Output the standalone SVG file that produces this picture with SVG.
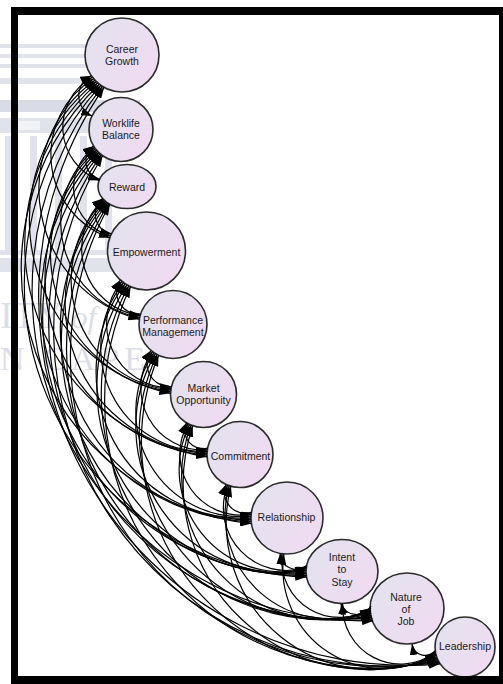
<svg xmlns="http://www.w3.org/2000/svg" width="503" height="684" viewBox="0 0 503 684">
<style>
.node{fill:url(#nf);stroke:#2b2b2b;stroke-width:1.6}
.lbl{font-family:"Liberation Sans",Arial,sans-serif;font-size:10.5px;fill:#1a1a1a;text-anchor:middle}
.arc{fill:none;stroke:#000;stroke-width:1.2;marker-start:url(#ah);marker-end:url(#ah)}
.wm{fill:#e1e3ec}
.wmt{font-family:"Liberation Serif","Times New Roman",serif;fill:#dcdee8}
</style>
<defs>
<linearGradient id="nf" x1="0" y1="0" x2="1" y2="0.6">
<stop offset="0" stop-color="#e2e3ee"/>
<stop offset="1" stop-color="#f0dbf2"/>
</linearGradient>
<marker id="ah" viewBox="0 0 11 8" refX="11" refY="4" markerWidth="11" markerHeight="8" markerUnits="userSpaceOnUse" orient="auto-start-reverse">
<path d="M0,0 L11,4 L0,8 z" fill="#000"/>
</marker>
</defs>
<rect x="0" y="0" width="503" height="684" fill="#fff"/>
<g id="watermark">
<rect class="wm" x="0" y="44" width="100" height="4"/>
<rect class="wm" x="0" y="54" width="95" height="4"/>
<rect class="wm" x="0" y="64" width="90" height="4"/>
<rect class="wm" x="0" y="78" width="85" height="6"/>
<rect x="0" y="100" width="140" height="12" fill="#d9dbe7"/>
<rect class="wm" x="0" y="118" width="125" height="15"/>
<rect x="12" y="121" width="28" height="9" fill="#f2f3f7"/>
<rect class="wm" x="5" y="136" width="7" height="118"/>
<rect class="wm" x="30" y="136" width="7" height="118"/>
<rect class="wm" x="55" y="136" width="7" height="118"/>
<rect class="wm" x="80" y="136" width="7" height="118"/>
<rect class="wm" x="105" y="136" width="7" height="118"/>
<rect class="wm" x="0" y="250" width="135" height="5"/>
<rect class="wm" x="0" y="258" width="140" height="14"/>
<text class="wmt" x="0" y="328" font-size="38">ITY <tspan font-style="italic" font-size="32">of</tspan></text>
<text class="wmt" x="0" y="370" font-size="34" letter-spacing="5">N CAPE</text>
</g>
<g id="n1"><circle class="node" cx="122" cy="55" r="37"/><text class="lbl" x="122" y="53">Career</text><text class="lbl" x="122" y="65">Growth</text></g>
<g id="n2"><circle class="node" cx="121" cy="129.5" r="32"/><text class="lbl" x="121" y="127">Worklife</text><text class="lbl" x="121" y="139">Balance</text></g>
<g id="n3"><ellipse class="node" cx="127" cy="186.5" rx="29" ry="22"/><text class="lbl" x="127" y="191">Reward</text></g>
<g id="n4"><circle class="node" cx="146.5" cy="251" r="39"/><text class="lbl" x="146.5" y="255.5">Empowerment</text></g>
<g id="n5"><circle class="node" cx="173" cy="324.5" r="34"/><text class="lbl" x="173" y="324">Performance</text><text class="lbl" x="173" y="336">Management</text></g>
<g id="n6"><circle class="node" cx="203.5" cy="394.5" r="33"/><text class="lbl" x="203.5" y="392">Market</text><text class="lbl" x="203.5" y="404">Opportunity</text></g>
<g id="n7"><circle class="node" cx="240" cy="454.5" r="33"/><text class="lbl" x="240.5" y="460">Commitment</text></g>
<g id="n8"><circle class="node" cx="287" cy="518" r="36"/><text class="lbl" x="286.5" y="521">Relationship</text></g>
<g id="n9"><ellipse class="node" cx="342" cy="571.5" rx="36" ry="32"/><text class="lbl" x="342" y="561">Intent</text><text class="lbl" x="342" y="573">to</text><text class="lbl" x="342" y="585.5">Stay</text></g>
<g id="n10"><ellipse class="node" cx="407" cy="608.5" rx="37" ry="35.5"/><text class="lbl" x="406" y="600.5">Nature</text><text class="lbl" x="406" y="612.5">of</text><text class="lbl" x="406" y="624.5">Job</text></g>
<g id="n11"><circle class="node" cx="465" cy="647" r="30"/><text class="lbl" x="465" y="650">Leadership</text></g>
<g id="connectors">
<path class="arc" d="M91.3,75.7 A22.2,22.2 0 0 0 92,116"/>
<path class="arc" d="M92.4,77.3 A57,57 0 0 0 99.1,180.4"/>
<path class="arc" d="M93.7,78.8 A88.2,88.2 0 0 0 109.8,237.7"/>
<path class="arc" d="M95,80.2 A134.2,134.2 0 0 0 139.4,319.2"/>
<path class="arc" d="M96.3,81.6 A176.9,176.9 0 0 0 170.5,393.3"/>
<path class="arc" d="M97.7,82.9 A215.1,215.1 0 0 0 207.1,456.8"/>
<path class="arc" d="M99.2,84.2 A256.7,256.7 0 0 0 251.4,523.6"/>
<path class="arc" d="M100.8,85.3 A294.3,294.3 0 0 0 306.5,577.1"/>
<path class="arc" d="M102.4,86.4 A330.7,330.7 0 0 0 373.2,620.8"/>
<path class="arc" d="M104.1,87.4 A368.3,368.3 0 0 0 440.1,663.8"/>
<path class="arc" d="M93.6,146 A18.7,18.7 0 0 0 99.6,179.3"/>
<path class="arc" d="M94.5,147.4 A49.6,49.6 0 0 0 110.6,235.8"/>
<path class="arc" d="M95.4,148.8 A96.2,96.2 0 0 0 139.7,317.4"/>
<path class="arc" d="M96.5,150.1 A139.4,139.4 0 0 0 170.6,391.6"/>
<path class="arc" d="M97.6,151.3 A178.2,178.2 0 0 0 207,455.1"/>
<path class="arc" d="M98.8,152.5 A220.5,220.5 0 0 0 251.2,521.8"/>
<path class="arc" d="M100,153.7 A259.2,259.2 0 0 0 306.3,575.4"/>
<path class="arc" d="M101.3,154.7 A296.8,296.8 0 0 0 372.6,619"/>
<path class="arc" d="M102.6,155.7 A335.9,335.9 0 0 0 439.3,662.5"/>
<path class="arc" d="M102.7,198.5 A20.1,20.1 0 0 0 111.4,233.9"/>
<path class="arc" d="M103.5,199.4 A67.3,67.3 0 0 0 140.2,315.7"/>
<path class="arc" d="M104.5,200.3 A110.9,110.9 0 0 0 170.8,389.9"/>
<path class="arc" d="M105.5,201.2 A150,150 0 0 0 207,453.3"/>
<path class="arc" d="M106.5,202.1 A192.7,192.7 0 0 0 251,519.9"/>
<path class="arc" d="M107.6,202.8 A232.2,232.2 0 0 0 306.1,573.7"/>
<path class="arc" d="M108.8,203.6 A270.6,270.6 0 0 0 372.1,617.2"/>
<path class="arc" d="M109.9,204.3 A310.6,310.6 0 0 0 438.5,661.1"/>
<path class="arc" d="M120.4,280 A21.9,21.9 0 0 0 140.7,314"/>
<path class="arc" d="M122,281.3 A64.9,64.9 0 0 0 171.1,388.2"/>
<path class="arc" d="M123.6,282.6 A104,104 0 0 0 207.1,451.6"/>
<path class="arc" d="M125.2,283.7 A146.8,146.8 0 0 0 251,518"/>
<path class="arc" d="M127,284.8 A186.8,186.8 0 0 0 306,572"/>
<path class="arc" d="M128.8,285.7 A226,226 0 0 0 371.6,615.4"/>
<path class="arc" d="M130.6,286.6 A266.8,266.8 0 0 0 437.8,659.7"/>
<path class="arc" d="M151.1,350.5 A22.9,22.9 0 0 0 171.5,386.5"/>
<path class="arc" d="M152.5,351.7 A62.1,62.1 0 0 0 207.3,449.9"/>
<path class="arc" d="M154,352.7 A104.9,104.9 0 0 0 251,516.1"/>
<path class="arc" d="M155.5,353.6 A145.7,145.7 0 0 0 306,570.4"/>
<path class="arc" d="M157.1,354.5 A185.6,185.6 0 0 0 371.4,613.5"/>
<path class="arc" d="M158.6,355.3 A227.2,227.2 0 0 0 437.2,658.3"/>
<path class="arc" d="M186.5,422.8 A18.2,18.2 0 0 0 207.6,448.2"/>
<path class="arc" d="M188,423.6 A61,61 0 0 0 251.2,514.2"/>
<path class="arc" d="M189.5,424.4 A102.4,102.4 0 0 0 306.1,568.7"/>
<path class="arc" d="M191.1,425.1 A143.1,143.1 0 0 0 371.1,611.6"/>
<path class="arc" d="M192.7,425.7 A185.5,185.5 0 0 0 436.6,656.8"/>
<path class="arc" d="M226,484.4 A20.9,20.9 0 0 0 251.4,512.4"/>
<path class="arc" d="M227.6,485.1 A62.8,62.8 0 0 0 306.4,567.1"/>
<path class="arc" d="M229.2,485.7 A104,104 0 0 0 371,609.8"/>
<path class="arc" d="M230.9,486.2 A146.8,146.8 0 0 0 436.2,655.3"/>
<path class="arc" d="M280.1,553.4 A16.1,16.1 0 0 0 306.6,565.4"/>
<path class="arc" d="M282,553.6 A57.6,57.6 0 0 0 371,607.9"/>
<path class="arc" d="M283.9,553.9 A100.4,100.4 0 0 0 435.8,653.8"/>
<path class="arc" d="M340.7,603.5 A16.8,16.8 0 0 0 371.1,606"/>
<path class="arc" d="M342.6,603.5 A57.9,57.9 0 0 0 435.5,652.2"/>
<path class="arc" d="M412,644.1 A13.3,13.3 0 0 0 435.2,650.7"/>
</g>
<path id="frame" fill="#000" fill-rule="evenodd" d="M11,7 H503 V684 H11 Z M18,15 V676 H499 V15 Z"/>
</svg>
